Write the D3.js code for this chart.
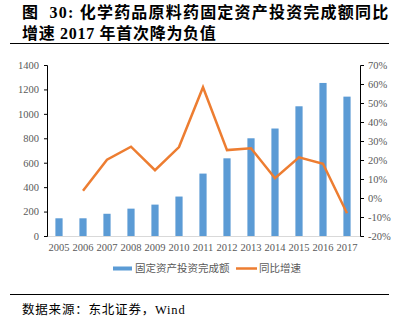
<!DOCTYPE html>
<html><head><meta charset="utf-8">
<script src="https://cdn.jsdelivr.net/npm/d3@7"></script>
<style>
body{margin:0;background:#fff;}
svg{display:block;}
</style></head>
<body>
<svg id="c" width="404" height="326"></svg>
<script>
const years = ["2005","2006","2007","2008","2009","2010","2011","2012","2013","2014","2015","2016","2017"];
const investment = [145,145,182,224,257,323,511,636,800,880,1062,1253,1141];
const growth = [null,3.8,20.2,27.0,14.6,26.8,58.3,25.2,26.2,10.4,21.4,18.0,-8.0];
const leftTicks = [0,200,400,600,800,1000,1200,1400];
const rightTicks = [-20,-10,0,10,20,30,40,50,60,70];
const titleLines = ["图  30: 化学药品原料药固定资产投资完成额同比","增速 2017 年首次降为负值"];
const seriesNames = ["固定资产投资完成额","同比增速"];
const source = "数据来源：东北证券，Wind";

const svg = d3.select("#c");
const fontNum = "'Liberation Serif','Times New Roman','Noto Sans CJK SC',serif";
const fontCJK = "'Liberation Serif','Noto Sans CJK SC',sans-serif";
const gray = "#595959";

// title
svg.selectAll("text.title").data(titleLines).enter().append("text")
  .attr("x",22).attr("y",(d,i)=>18+i*21)
  .attr("font-family",fontCJK).attr("font-weight","bold").attr("font-size",16)
  .attr("letter-spacing",(d,i)=>i===0?1.2:0.7)
  .style("white-space","pre")
  .attr("fill","#000").text(d=>d);
svg.append("line").attr("x1",10).attr("x2",389).attr("y1",43.5).attr("y2",43.5)
  .attr("stroke","#000").attr("stroke-width",1.2);

const x = d3.scaleBand().domain(years).range([47,359]).paddingInner(0.7).paddingOuter(0.35);
const yL = d3.scaleLinear().domain([0,1400]).range([236,65]);
const yR = d3.scaleLinear().domain([-20,70]).range([236,65]);

// baseline
svg.append("line").attr("x1",47).attr("x2",361).attr("y1",yL(0)+0.5).attr("y2",yL(0)+0.5)
  .attr("stroke","#d9d9d9").attr("stroke-width",1);

// bars
svg.selectAll("rect.bar").data(investment).enter().append("rect")
  .attr("x",(d,i)=>x(years[i])).attr("width",x.bandwidth())
  .attr("y",d=>yL(d)).attr("height",d=>yL(0)-yL(d))
  .attr("fill","#5B9BD5");

// line
const line = d3.line().defined(d=>d!=null)
  .x((d,i)=>x(years[i])+x.bandwidth()/2).y(d=>yR(d));
svg.append("path").datum(growth).attr("d",line)
  .attr("fill","none").attr("stroke","#ED7D31").attr("stroke-width",2.5)
  .attr("stroke-linejoin","miter");

// axes
const axL = svg.append("g").attr("transform","translate(47,0)")
  .call(d3.axisLeft(yL).tickValues(leftTicks).tickSize(3).tickPadding(5).tickFormat(d3.format("d")));
const axR = svg.append("g").attr("transform","translate(361,0)")
  .call(d3.axisRight(yR).tickValues(rightTicks).tickSize(3).tickPadding(4).tickFormat(d=>d+"%"));
[axL,axR].forEach(a=>{
  a.select(".domain").attr("stroke","#000").attr("stroke-width",1).attr("d", a===axL?"M-3,65.5H0.5V236.5H-3":"M3,65.5H-0.5V236.5H3");
  a.selectAll(".tick line").attr("stroke","#000");
  a.selectAll(".tick text").attr("font-family",fontNum).attr("font-size",10.5).attr("fill",gray);
});
const axX = svg.append("g").attr("transform","translate(0,236)")
  .call(d3.axisBottom(x).tickSize(0).tickPadding(8));
axX.select(".domain").remove();
axX.selectAll(".tick text").attr("font-family",fontNum).attr("font-size",10.5).attr("fill",gray);

// legend
const lg = svg.append("g");
lg.append("rect").attr("x",113).attr("y",266.5).attr("width",19).attr("height",4).attr("fill","#5B9BD5");
lg.append("text").attr("x",135).attr("y",272).attr("font-family",fontCJK).attr("font-size",10.5)
  .attr("fill",gray).text(seriesNames[0]);
lg.append("line").attr("x1",236).attr("x2",257).attr("y1",268.5).attr("y2",268.5)
  .attr("stroke","#ED7D31").attr("stroke-width",2.5);
lg.append("text").attr("x",259).attr("y",272).attr("font-family",fontCJK).attr("font-size",10.5)
  .attr("fill",gray).text(seriesNames[1]);

// bottom rule and source
svg.append("line").attr("x1",10).attr("x2",389).attr("y1",294.5).attr("y2",294.5)
  .attr("stroke","#000").attr("stroke-width",1.2);
svg.append("text").attr("x",22).attr("y",314).attr("font-family",fontCJK).attr("font-size",12.5)
  .attr("letter-spacing",0.8)
  .attr("fill","#000").text(source);
</script>
</body></html>
